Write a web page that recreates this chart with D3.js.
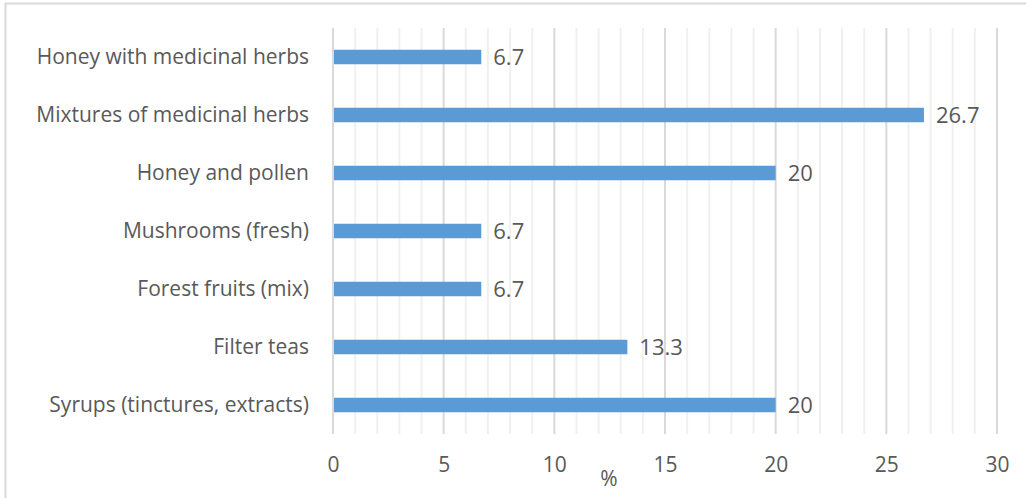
<!DOCTYPE html>
<html>
<head>
<meta charset="utf-8">
<script src="https://cdn.jsdelivr.net/npm/d3@7"></script>
<style>
  html, body { margin: 0; padding: 0; background: #fff; }
  svg { display: block; }
  text { font-family: "Open Sans", "Liberation Sans", sans-serif; fill: #595959; }
</style>
</head>
<body>
<svg id="chart" width="1026" height="498"></svg>
<script>
// Product categories, listed top to bottom
const categories = [
  "Honey with medicinal herbs",
  "Mixtures of medicinal herbs",
  "Honey and pollen",
  "Mushrooms (fresh)",
  "Forest fruits (mix)",
  "Filter teas",
  "Syrups (tinctures, extracts)"
];
// Share of respondents, %
const values = [6.7, 26.7, 20, 6.7, 6.7, 13.3, 20];
const xTicks = [0, 5, 10, 15, 20, 25, 30];
const axisTitle = "%";

const svg = d3.select("#chart");
const W = 1026, H = 498;
const plot = { left: 333, right: 997, top: 28, bottom: 434 };
const fontSize = 21;

// Outer frame (top and left edges visible)
svg.append("path")
  .attr("d", `M5.5,${H + 2} V3.5 H${W + 2}`)
  .attr("fill", "none")
  .attr("stroke", "#d9d9d9")
  .attr("stroke-width", 2);

const x = d3.scaleLinear().domain([0, 30]).range([plot.left, plot.right]);
const y = d3.scaleBand().domain(categories).range([plot.top, plot.bottom]).paddingInner(0.75).paddingOuter(0.375);

// Minor gridlines every 1 unit
svg.append("g")
  .selectAll("line")
  .data(d3.range(0, 31).filter(v => v % 5 !== 0))
  .join("line")
  .attr("x1", d => x(d)).attr("x2", d => x(d))
  .attr("y1", plot.top).attr("y2", plot.bottom)
  .attr("stroke", "#f0f0f0")
  .attr("stroke-width", 2);

// Major gridlines every 5 units
svg.append("g")
  .selectAll("line")
  .data(xTicks)
  .join("line")
  .attr("x1", d => x(d)).attr("x2", d => x(d))
  .attr("y1", plot.top).attr("y2", plot.bottom)
  .attr("stroke", "#d9d9d9")
  .attr("stroke-width", 2);

// Bars
svg.append("g")
  .selectAll("rect")
  .data(values)
  .join("rect")
  .attr("x", x(0) + 1)
  .attr("y", (d, i) => y(categories[i]))
  .attr("width", d => x(d) - x(0) - 1)
  .attr("height", y.bandwidth())
  .attr("fill", "#5b9bd5");

// Value labels
svg.append("g")
  .selectAll("text")
  .data(values)
  .join("text")
  .attr("x", d => x(d) + 12)
  .attr("y", (d, i) => y(categories[i]) + y.bandwidth() / 2)
  .attr("dy", "0.35em")
  .attr("font-size", 22)
  .text(d => d3.format("~g")(d));

// Category labels
svg.append("g")
  .selectAll("text")
  .data(categories)
  .join("text")
  .attr("x", 309)
  .attr("y", d => y(d) + y.bandwidth() / 2)
  .attr("dy", "0.35em")
  .attr("text-anchor", "end")
  .attr("font-size", fontSize)
  .text(d => d);

// X axis labels
const xAxis = d3.axisBottom(x).tickValues(xTicks).tickSize(0).tickPadding(0);
const gx = svg.append("g")
  .attr("transform", `translate(0, ${plot.bottom + 31})`)
  .call(xAxis);
gx.select(".domain").remove();
gx.selectAll("text")
  .attr("font-size", fontSize)
  .attr("font-family", "Open Sans, Liberation Sans, sans-serif")
  .attr("fill", "#595959")
  .attr("dy", "0.35em")
  .attr("y", 0);

// Axis title
svg.append("text")
  .attr("x", 609)
  .attr("y", 479)
  .attr("dy", "0.35em")
  .attr("text-anchor", "middle")
  .attr("font-size", fontSize)
  .text(axisTitle);
</script>
</body>
</html>
